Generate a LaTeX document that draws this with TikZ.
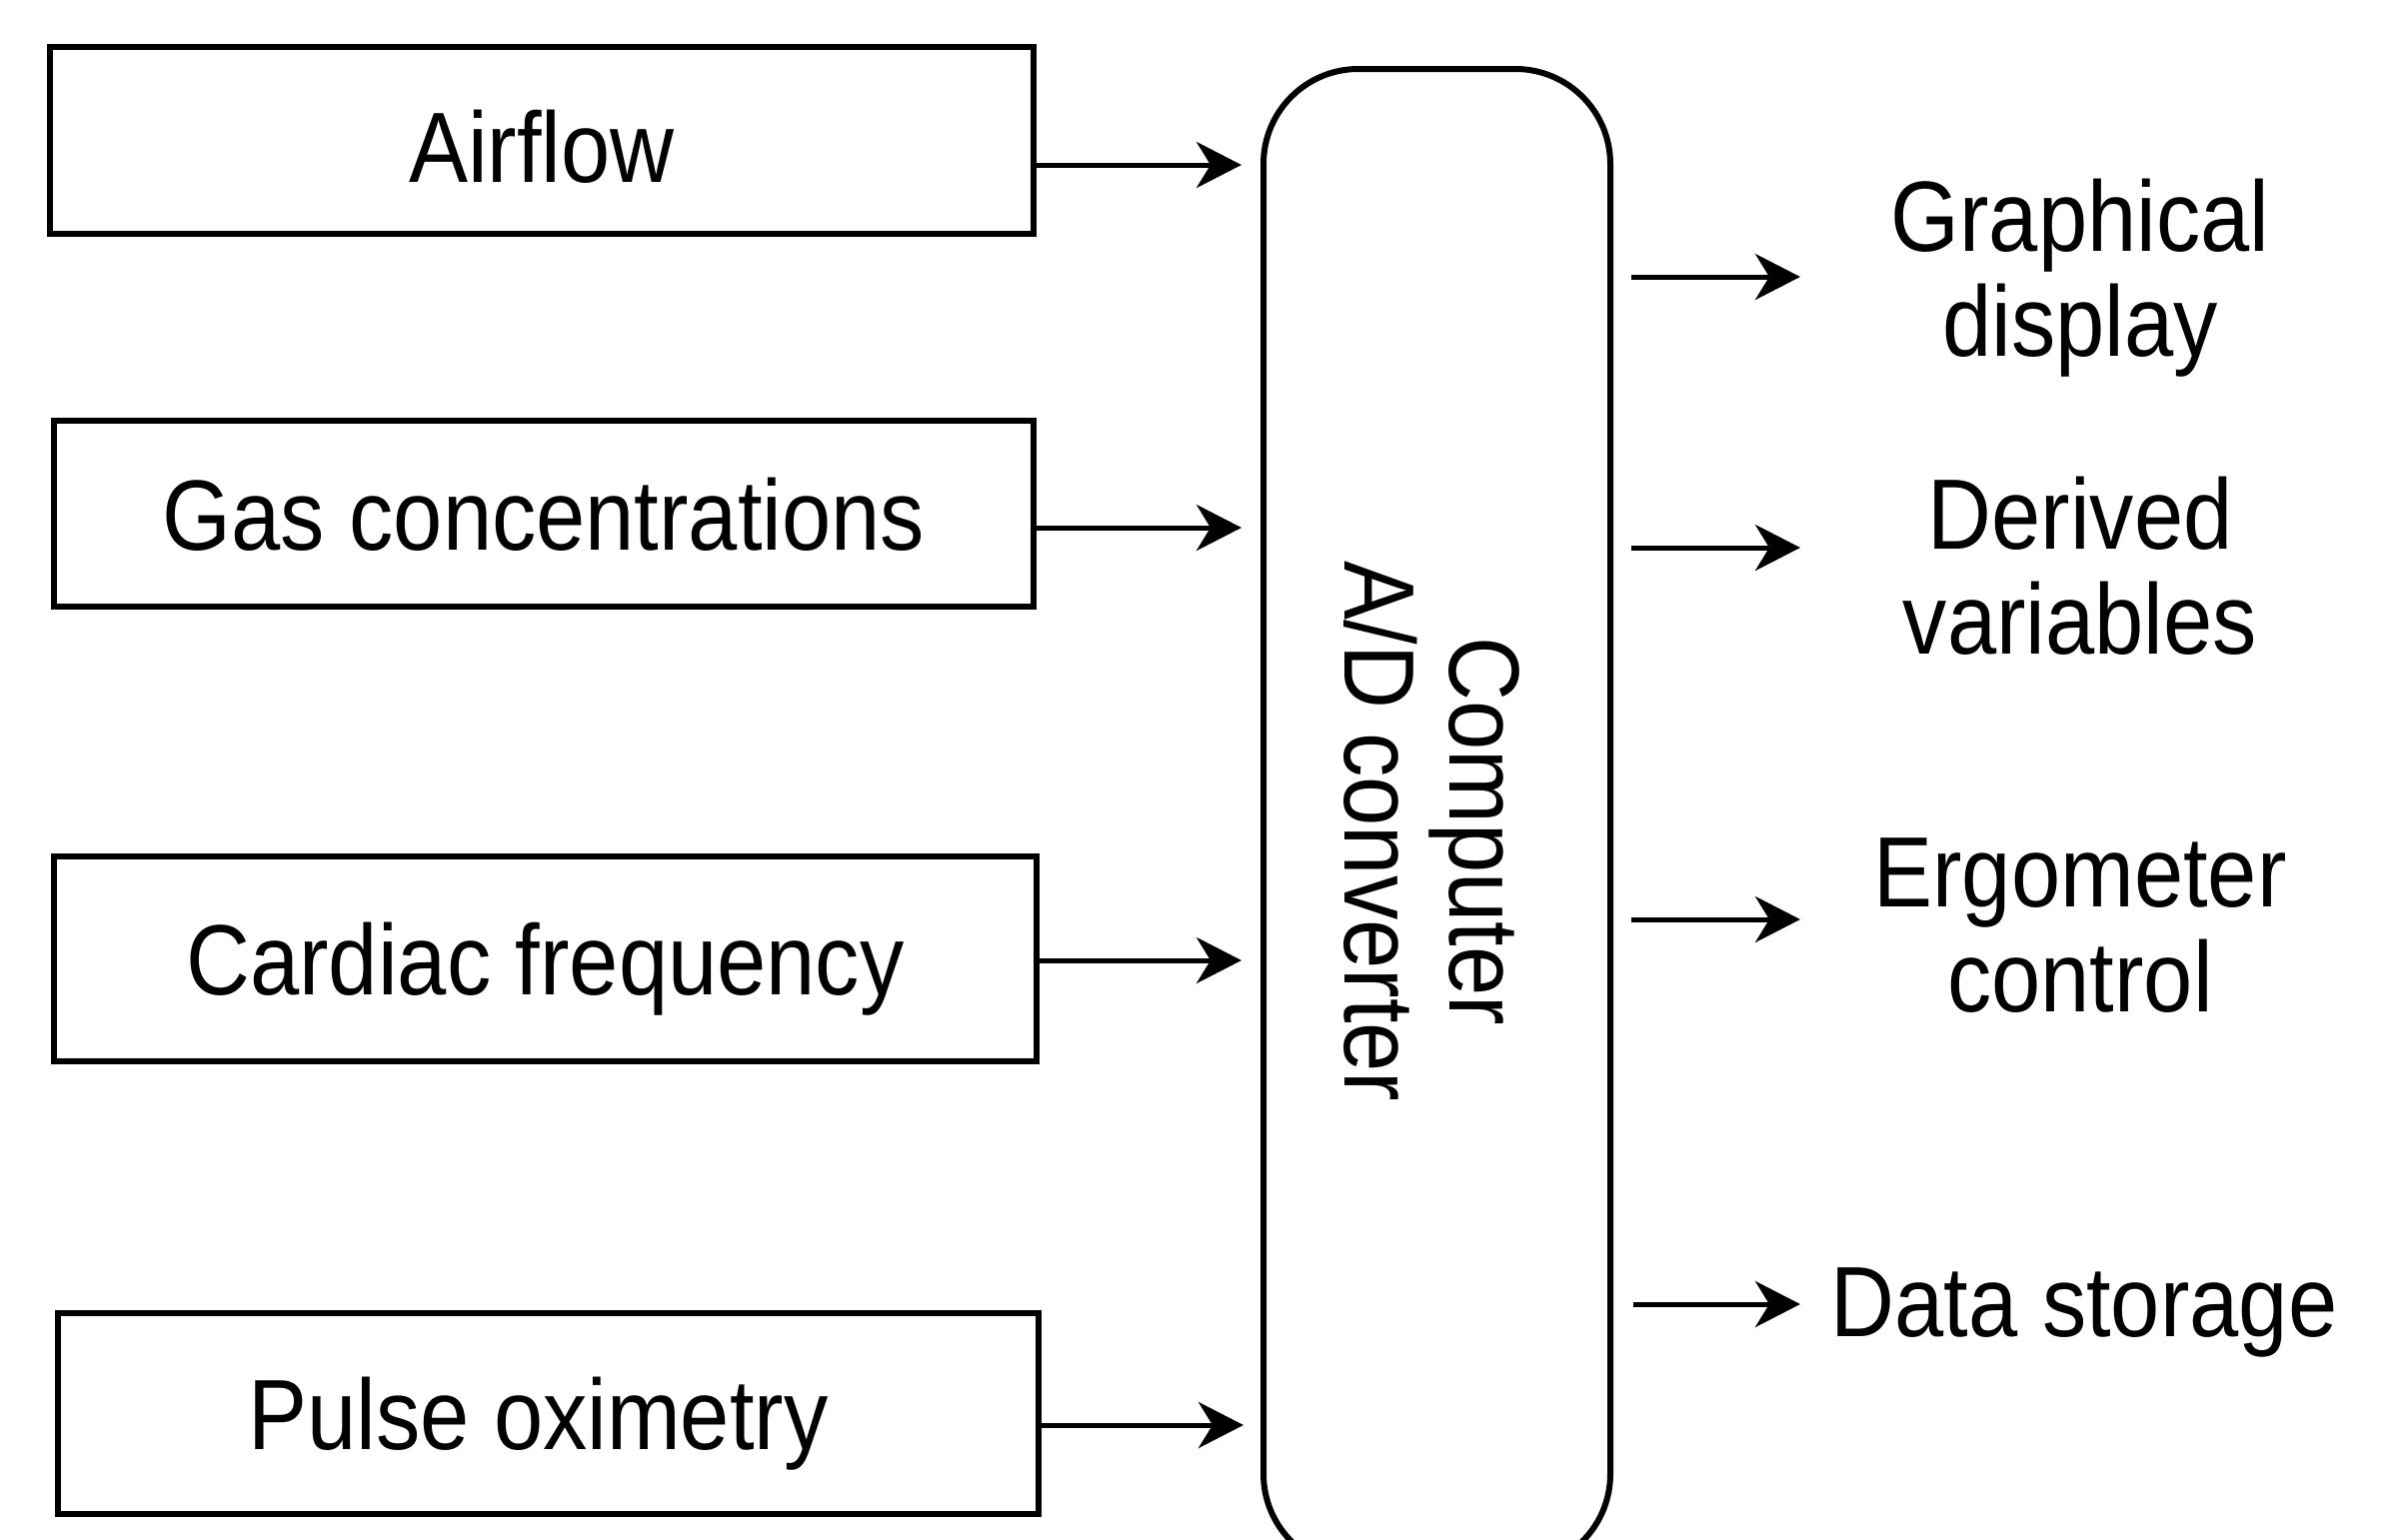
\documentclass[tikz,border=0pt]{standalone}
\usepackage{fontspec}
\setmainfont[FakeStretch=0.885]{Liberation Sans}
\usetikzlibrary{arrows.meta}
\begin{document}
\begin{tikzpicture}[x=1pt,y=-1pt,
  box/.style={draw, line width=6pt, inner sep=0pt, text height=72pt, text depth=0pt,
    font=\fontsize{100}{103}\selectfont},
  lbl/.style={align=center, inner sep=0pt, font=\fontsize{100}{105}\selectfont},
  arr/.style={line width=5pt, -{Stealth[length=45pt,width=46pt,inset=14pt]}}]
\useasboundingbox (0,0) rectangle (2399,1540);
\clip (0,0) rectangle (2399,1540);
% input boxes
\node[box, minimum width=984pt, minimum height=187pt] (air) at (542,140.5) {\raisebox{-6pt}{Airflow}};
\node[box, minimum width=980pt, minimum height=186pt] (gas) at (544,514) {Gas concentrations};
\node[box, minimum width=983pt, minimum height=205pt] (card) at (545.5,959.5) {Cardiac frequency};
\node[box, minimum width=981pt, minimum height=201pt] (pulse) at (548.5,1414.5) {\hspace*{-20pt}Pulse oximetry};
% computer
\node[draw, line width=6pt, rounded corners=95pt, minimum width=347pt, minimum height=1501pt, inner sep=0pt] (comp) at (1437.5,819.5) {};
\node[lbl, rotate=-90] (ctext) at (1432,832) {Computer\\A/D converter};
% output labels
\node[lbl] (gd) at (2081,278) {Graphical\\display};
\node[lbl] (dv) at (2081,566) {Derived\\variables};
\node[lbl] (ec) at (2081,926) {Ergometer\\control};
\node[lbl] (ds) at (2085,1313) {Data storage};
% input arrows
\draw[arr, shorten >=19pt] ([yshift=-24.5pt]air.east) -- ([yshift=-24.5pt]air.east -| comp.west);
\draw[arr, shorten >=19pt] ([yshift=-14pt]gas.east) -- ([yshift=-14pt]gas.east -| comp.west);
\draw[arr, shorten >=19pt] ([yshift=-1.5pt]card.east) -- ([yshift=-1.5pt]card.east -| comp.west);
\draw[arr, shorten >=17pt] ([yshift=-11.5pt]pulse.east) -- ([yshift=-11.5pt]pulse.east -| comp.west);
% output arrows
\coordinate (o1) at (1801,277);
\coordinate (o2) at (1801,548);
\coordinate (o3) at (1801,920);
\coordinate (o4) at (1801,1305);
\draw[arr, shorten <=18pt] (comp.east |- o1) -- (o1);
\draw[arr, shorten <=18pt] (comp.east |- o2) -- (o2);
\draw[arr, shorten <=18pt] (comp.east |- o3) -- (o3);
\draw[arr, shorten <=20pt] (comp.east |- o4) -- (o4);
\end{tikzpicture}
\end{document}
